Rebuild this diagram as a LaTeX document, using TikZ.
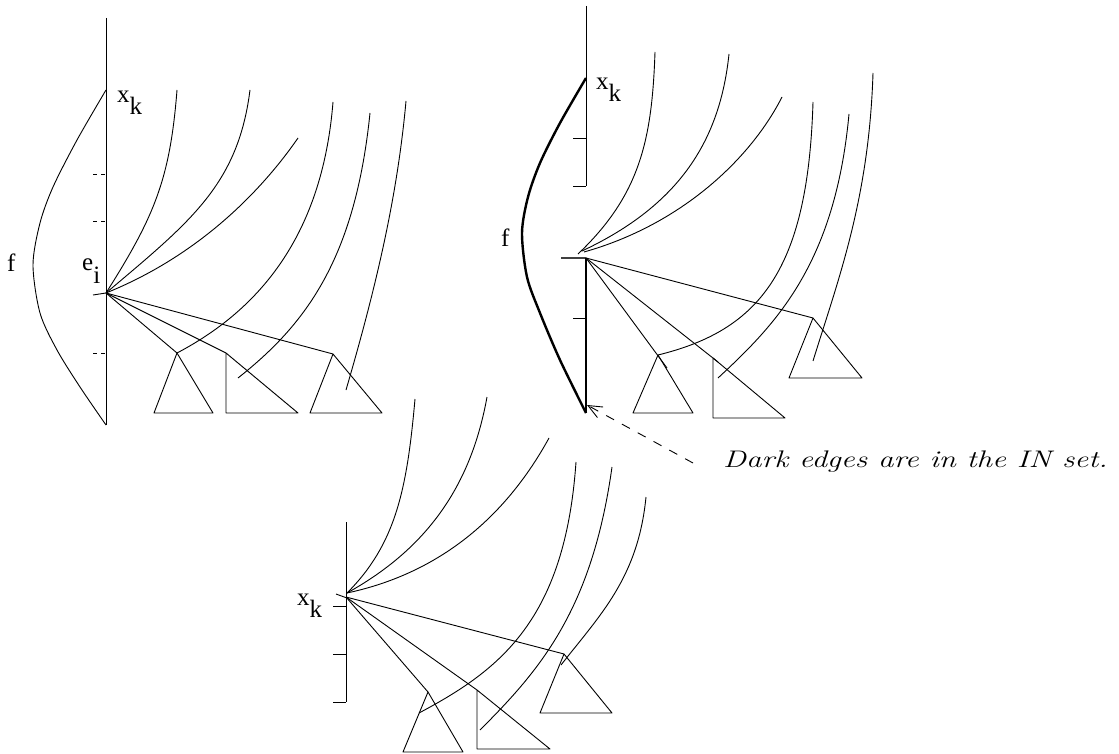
\documentclass[tikz,border=0pt]{standalone}
\usepackage{fontspec}
\newfontfamily\labfont{Liberation Serif}
\usetikzlibrary{arrows.meta}
\tikzset{
  thin/.style={line width=0.9pt},
  darkedge/.style={line width=2.4pt},
  tickdash/.style={line width=0.9pt, dash pattern=on 4pt off 4pt},
  lab/.style={font=\labfont\fontsize{25}{28}\selectfont, inner sep=0pt, anchor=base west},
  capt/.style={inner sep=0pt, anchor=base west},
}
\begin{document}
\begin{tikzpicture}[x=1pt,y=-1pt,line join=round]
\useasboundingbox (0,0) rectangle (1119,754);

% ---------------- left figure ----------------
\coordinate (LF) at (106,293);
\draw[thin] (106,18) -- (106,425);
\draw[tickdash] (93,174) -- (106,174);
\draw[tickdash] (93,221) -- (106,221);
\draw[tickdash] (93,353) -- (106,353);
\draw[thin] (93,295) -- (LF);
\draw[thin] plot[smooth] coordinates {(106,90) (77,140) (53,187) (40,223) (33,265) (40,313) (57,350) (80,387) (106,425)};
\node[lab] (Lf) at (7,271) {f};
\node[lab] (Lei) at (82,270) {e\raisebox{-13pt}{i}};
\node[lab] (Lxk) at (117,103) {x\raisebox{-12pt}{k}};
\draw[thin] (LF) .. controls (154,217) and (170,180) .. (177,90);
\draw[thin] (LF) .. controls (190,222) and (238,185) .. (250,90);
\draw[thin] (LF) .. controls (200,255) and (262,190) .. (298,138);
\coordinate (LT1) at (177,353);
\coordinate (LT2) at (226,353);
\coordinate (LT3) at (333,354);
\draw[thin] (LF) -- (LT1);
\draw[thin] (LF) -- (LT2);
\draw[thin] (LF) -- (LT3);
\draw[thin] (LT1) -- (154,413) -- (213,413) -- cycle;
\draw[thin] (LT2) -- (226,413) -- (298,413) -- cycle;
\draw[thin] (LT3) -- (310,413) -- (382,413) -- cycle;
\draw[thin] (333,102) .. controls (322,240) and (255,312) .. (LT1);
\draw[thin] (370,113) .. controls (355,260) and (305,325) .. (238,378);
\draw[thin] (406,101) .. controls (397,201) and (374,294) .. (346,390);

% ---------------- right figure ----------------
\coordinate (RF) at (586,258);
\draw[thin] (586,6) -- (586,186);
\draw[thin] (573,138) -- (586,138);
\draw[thin] (573,186) -- (586,186);
\draw[line width=1.3pt, black!75] (561,258) -- (RF);
\draw[darkedge] (RF) -- (586,413);
\draw[thin] (573,318) -- (586,318);
\draw[darkedge] plot[smooth] coordinates {(586,78) (560,123) (540,163) (528,197) (522,233) (527,277) (540,313) (560,360) (586,413)};
\node[lab] (Rf) at (501,247) {f};
\node[lab] (Rxk) at (596,90) {x\raisebox{-12pt}{k}};
\draw[thin] (578,254) .. controls (640,195) and (652,140) .. (655,52);
\draw[thin] (582,251) .. controls (680,205) and (720,140) .. (729,54);
\draw[thin] (584,252) .. controls (680,225) and (750,160) .. (782,97);
\coordinate (RT1) at (658,355);
\coordinate (RT2) at (713,358);
\coordinate (RT3) at (813,318);
\draw[thin] (RF) -- (667,368);
\draw[thin] (RF) -- (718,362);
\draw[thin] (RF) -- (RT3);
\draw[thin] (RT1) -- (633,413) -- (693,413) -- cycle;
\draw[thin] (RT2) -- (713,418) -- (785,418) -- cycle;
\draw[thin] (RT3) -- (789,378) -- (862,378) -- cycle;
\draw[thin] (813,102) .. controls (808,270) and (760,330) .. (RT1);
\draw[thin] (849,114) .. controls (835,265) and (775,325) .. (718,378);
\draw[thin] (873,73) .. controls (869,200) and (838,280) .. (813,361);

% ---------------- caption ----------------
\coordinate (tipR) at (587,405);
\node[capt] (cap) at (723,467) {\scalebox{1.29}[1]{\fontsize{24}{28}\selectfont\itshape Dark edges are in the IN set.}};
\draw[thin, dash pattern=on 9pt off 9pt, -{Straight Barb[length=14pt,width=12pt,line width=0.9pt]}] (693,463) -- (tipR);

% ---------------- bottom figure ----------------
\coordinate (BF) at (346,597);
\draw[thin] (346,522) -- (346,702);
\draw[thin] (333,606) -- (346,606);
\draw[thin] (333,654) -- (346,654);
\draw[thin] (333,702) -- (346,702);
\draw[thin] (336,594) -- (347,598);
\node[lab] (Bxk) at (297,605) {x\raisebox{-12pt}{k}};
\draw[thin] (347,593) .. controls (396,544) and (407,489) .. (415,399);
\draw[thin] (347,593) .. controls (432,546) and (472,480) .. (487,397);
\draw[thin] (347,593) .. controls (455,570) and (515,500) .. (549,438);
\coordinate (BT1) at (428,692);
\coordinate (BT2) at (477,690);
\coordinate (BT3) at (564,654);
\draw[thin] (BF) -- (BT1);
\draw[thin] (BF) -- (BT2);
\draw[thin] (BF) -- (BT3);
\draw[thin] (BT1) -- (403,752) -- (463,752) -- cycle;
\draw[thin] (BT2) -- (477,749) -- (550,749) -- cycle;
\draw[thin] (BT3) -- (540,713) -- (612,713) -- cycle;
\draw[thin] (576,462) .. controls (565,620) and (500,670) .. (419,713);
\draw[thin] (612,467) .. controls (592,610) and (540,670) .. (480,730);
\draw[thin] (646,497) .. controls (638,578) and (600,615) .. (561,665);
\end{tikzpicture}
\end{document}
